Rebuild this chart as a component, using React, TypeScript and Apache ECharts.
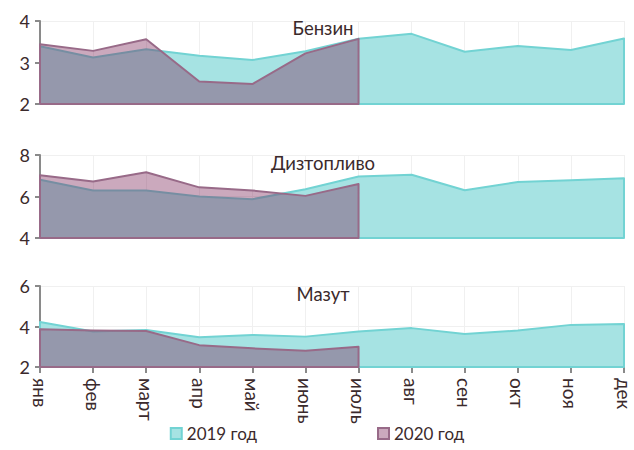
import React, { useEffect, useRef } from "react";
import * as echarts from "echarts";

const months = ["янв", "фев", "март", "апр", "май", "июнь", "июль", "авг", "сен", "окт", "ноя", "дек"];
const titles = ["Бензин", "Дизтопливо", "Мазут"];
const benzin2019 = [3.39, 3.12, 3.32, 3.16, 3.06, 3.27, 3.57, 3.69, 3.26, 3.4, 3.3, 3.58];
const benzin2020 = [3.44, 3.28, 3.56, 2.54, 2.48, 3.22, 3.57];
const diesel2019 = [6.81, 6.29, 6.29, 6.0, 5.87, 6.35, 6.96, 7.05, 6.3, 6.7, 6.78, 6.88];
const diesel2020 = [7.02, 6.72, 7.17, 6.44, 6.29, 6.03, 6.6];
const mazut2019 = [4.22, 3.75, 3.83, 3.47, 3.58, 3.5, 3.75, 3.92, 3.63, 3.8, 4.08, 4.12];
const mazut2020 = [3.87, 3.8, 3.78, 3.08, 2.92, 2.8, 3.0];
const yMins = [2, 4, 2];
const yMaxs = [4, 8, 6];
const yIntervals = [1, 2, 2];
const seriesNames = ["2019 год", "2020 год"];

const FONT = "Lato, 'Noto Sans', sans-serif";
const TEXT = "#3b2a2c";
const FILL19 = "#a6e3e3";
const STROKE19 = "#72d3d3";
const FILL20 = "rgba(125,40,90,0.4)";
const STROKE20 = "#986a88";

export default function App() {
  const ref = useRef<HTMLDivElement>(null);
  useEffect(() => {
    if (!ref.current) return;
    const chart = echarts.init(ref.current, null, { renderer: "svg" });
    const grids = [
      { left: 40, right: 10, top: 21, height: 83 },
      { left: 40, right: 10, top: 155, height: 83 },
      { left: 40, right: 10, top: 286, height: 81 },
    ];
    const data = [
      [benzin2019, benzin2020],
      [diesel2019, diesel2020],
      [mazut2019, mazut2020],
    ];
    const makeRender = (values: number[], ymin: number, fill: string, stroke: string) =>
      (params: any, api: any) => {
        if (params.dataIndex !== 0) return null;
        const pts = values.map((v, i) => api.coord([i, v]));
        pts.push(api.coord([values.length - 1, ymin]));
        pts.push(api.coord([0, ymin]));
        return {
          type: "polygon",
          shape: { points: pts },
          style: { fill, stroke, lineWidth: 2, lineJoin: "round" },
        };
      };
    const xAxes = grids.map((_, gi) => ({
      type: "category",
      gridIndex: gi,
      data: months,
      boundaryGap: false,
      axisLine: { show: gi === 2, lineStyle: { color: "#8a8a8a", width: 2 } },
      axisTick: { show: gi === 2, length: 6, lineStyle: { color: "#8a8a8a", width: 2 } },
      axisLabel: {
        show: gi === 2,
        rotate: -90,
        fontSize: 19,
        color: TEXT,
        fontFamily: FONT,
        margin: 11,
      },
      splitLine: { show: true, lineStyle: { color: "#f0f0f0", width: 1 } },
    }));
    const yAxes = grids.map((_, gi) => ({
      type: "value",
      gridIndex: gi,
      min: yMins[gi],
      max: yMaxs[gi],
      interval: yIntervals[gi],
      axisLine: { show: true, lineStyle: { color: "#8a8a8a", width: 2 } },
      axisTick: { show: true, length: 5, lineStyle: { color: "#8a8a8a", width: 2 } },
      axisLabel: { fontSize: 18, color: TEXT, fontFamily: FONT, margin: 10 },
      splitLine: { show: true, lineStyle: { color: "#f0f0f0", width: 1 } },
    }));
    const series: any[] = [];
    data.forEach((pair, gi) => {
      pair.forEach((values, si) => {
        series.push({
          type: "custom",
          name: seriesNames[si],
          xAxisIndex: gi,
          yAxisIndex: gi,
          data: values.map((v, i) => [i, v]),
          encode: { x: 0, y: 1 },
          renderItem: makeRender(
            values,
            yMins[gi],
            si === 0 ? FILL19 : FILL20,
            si === 0 ? STROKE19 : STROKE20
          ),
          itemStyle: { color: si === 0 ? FILL19 : "#cba9bd" },
          z: 2 + si,
          clip: false,
        });
      });
    });
    chart.setOption({
      animation: false,
      title: titles.map((t, i) => ({
        text: t,
        left: 318,
        top: [13, 148, 279][i],
        textAlign: "center",
        textStyle: { fontSize: 18.5, fontWeight: "normal", color: TEXT, fontFamily: FONT },
      })),
      legend: {
        bottom: 3,
        left: "center",
        icon: "rect",
        itemWidth: 11,
        itemHeight: 11,
        itemGap: 120,
        textStyle: { fontSize: 17, color: TEXT, fontFamily: FONT },
        data: [
          { name: seriesNames[0], itemStyle: { color: FILL19, borderColor: STROKE19, borderWidth: 2 } },
          { name: seriesNames[1], itemStyle: { color: "#cba9bd", borderColor: STROKE20, borderWidth: 2 } },
        ],
      },
      grid: grids,
      xAxis: xAxes,
      yAxis: yAxes,
      series,
    });
    return () => chart.dispose();
  }, []);
  return <div ref={ref} style={{ width: 634, height: 450, position: "absolute", left: 0, top: 0 }} />;
}
